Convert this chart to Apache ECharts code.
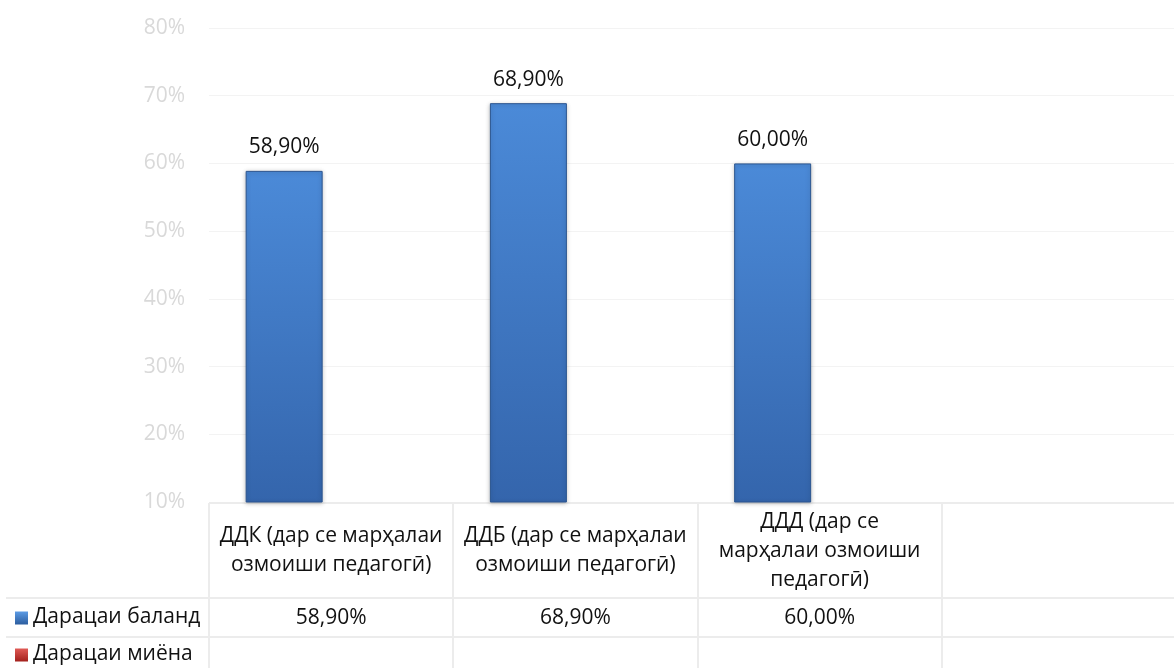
<!DOCTYPE html>
<html>
<head>
<meta charset="utf-8">
<script src="https://cdn.jsdelivr.net/npm/echarts@6/dist/echarts.min.js"></script>
<style>
html,body{margin:0;padding:0;background:#fff;overflow:hidden;width:1174px;height:668px;}
#chart{width:1186px;height:668px;}
</style>
</head>
<body>
<div id="chart"></div>
<script>
// Data
var categories = [
  'ДДК (дар се марҳалаи\nозмоиши педагогӣ)',
  'ДДБ (дар се марҳалаи\nозмоиши педагогӣ)',
  'ДДД (дар се\nмарҳалаи озмоиши\nпедагогӣ)',
  ''
];
var seriesNames = ['Дарацаи баланд', 'Дарацаи миёна'];
var highValues = [58.9, 68.9, 60.0, null];
var midValues = [null, null, null, null];
var yTicks = [10, 20, 30, 40, 50, 60, 70, 80];

function fmt(v) {
  return (v == null) ? '' : v.toFixed(2).replace('.', ',') + '%';
}
var valueRow = highValues.map(fmt);

var FONT = '"Open Sans", sans-serif';
var FS = 21;
var chart = echarts.init(document.getElementById('chart'));

var gridLeft = 209, gridTop = 28, gridBottomY = 502;

var option = {
  animation: false,
  backgroundColor: '#ffffff',
  grid: { left: gridLeft, top: gridTop, right: 0, bottom: 668 - gridBottomY, containLabel: false },
  xAxis: [{
    type: 'category',
    data: categories,
    axisLine: { show: false },
    axisTick: { show: false },
    axisLabel: {
      interval: 0,
      margin: 49,
      verticalAlign: 'middle',
      fontFamily: FONT, fontSize: FS, color: '#111', lineHeight: 29, align: 'center'
    }
  }, {
    type: 'category',
    position: 'bottom',
    data: valueRow,
    axisLine: { show: false },
    axisTick: { show: false },
    axisLabel: {
      interval: 0,
      margin: 116,
      verticalAlign: 'middle',
      fontFamily: FONT, fontSize: FS, color: '#111'
    }
  }],
  yAxis: {
    type: 'value',
    min: yTicks[0],
    max: yTicks[yTicks.length - 1],
    interval: 10,
    axisLine: { show: false },
    axisTick: { show: false },
    splitLine: { lineStyle: { color: '#f3f3f3', width: 1 } },
    axisLabel: {
      margin: 24,
      fontFamily: FONT, fontSize: FS, color: '#d9d9d9',
      formatter: function (v) { return v + '%'; }
    }
  },
  series: [{
    name: seriesNames[0],
    type: 'bar',
    xAxisIndex: 0,
    data: highValues,
    barWidth: 77,
    barGap: '22%',
    itemStyle: {
      color: new echarts.graphic.LinearGradient(0, 0, 0, 1, [
        { offset: 0, color: '#4b8ad8' },
        { offset: 1, color: '#3465ac' }
      ]),
      borderColor: '#2b5590',
      borderWidth: 1,
      shadowColor: 'rgba(0,0,0,0.25)',
      shadowBlur: 4,
      shadowOffsetY: 1
    },
    label: {
      show: true,
      position: 'top',
      distance: 13,
      fontFamily: FONT, fontSize: FS, color: '#111',
      formatter: function (p) { return fmt(p.value); }
    }
  }, {
    name: seriesNames[1],
    type: 'bar',
    xAxisIndex: 0,
    data: midValues,
    barWidth: 77,
    itemStyle: { color: '#c0392b' }
  }]
};
chart.setOption(option);

// Data table lines and row headers
var lineColor = '#ececec';
var ptA = chart.convertToPixel({ xAxisIndex: 0 }, 0);
var ptB = chart.convertToPixel({ xAxisIndex: 0 }, 1);
var band = ptB - ptA;
var tableTop = gridBottomY + 1, row1 = 598, row2 = 637, tableBottom = 668;
var elements = [];
function hline(x1, x2, y) {
  elements.push({ type: 'line', silent: true, shape: { x1: x1, y1: y, x2: x2, y2: y }, style: { stroke: lineColor, lineWidth: 2 } });
}
function vline(x, y1, y2) {
  elements.push({ type: 'line', silent: true, shape: { x1: x, y1: y1, x2: x, y2: y2 }, style: { stroke: lineColor, lineWidth: 2 } });
}
hline(gridLeft, 1186, tableTop);
hline(6, 1186, row1);
hline(6, 1186, row2);
for (var i = 0; i < categories.length; i++) {
  var c = chart.convertToPixel({ xAxisIndex: 0 }, i);
  vline(Math.round(c - band / 2), tableTop, tableBottom);
}
var keyColors = [
  ['#5b9be5', '#2c5d9f'],
  ['#e05a55', '#a3201c']
];
var rowYs = [(row1 + row2) / 2, (row2 + tableBottom) / 2 + 2];
seriesNames.forEach(function (n, k) {
  elements.push({
    type: 'rect', silent: true,
    shape: { x: 15, y: rowYs[k] - 6, width: 13, height: 13 },
    style: { fill: new echarts.graphic.LinearGradient(0, 0, 0, 1, [
      { offset: 0, color: keyColors[k][0] }, { offset: 1, color: keyColors[k][1] }
    ]) }
  });
  elements.push({
    type: 'text', silent: true,
    style: { x: 33, y: rowYs[k], text: n, fill: '#111', font: FS + 'px ' + FONT, textVerticalAlign: 'middle', verticalAlign: 'middle' }
  });
});
chart.setOption({ graphic: elements });
</script>
</body>
</html>
